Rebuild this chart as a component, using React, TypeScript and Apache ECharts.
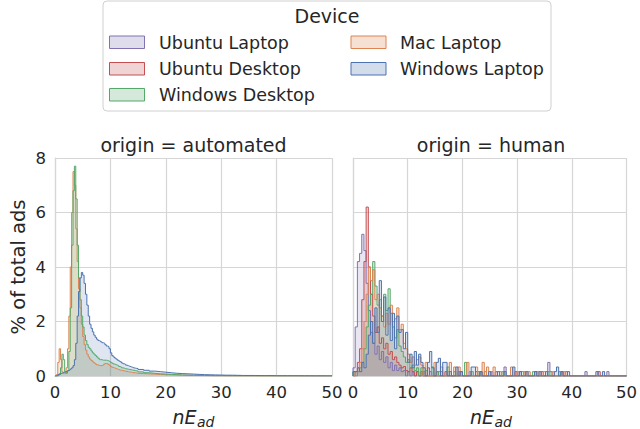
import React, { useEffect, useRef } from "react";
import * as echarts from "echarts";

// ---------- categories / ticks ----------
const LEGEND_TITLE = "Device";
const LEGEND_COL1 = ["Ubuntu Laptop", "Ubuntu Desktop", "Windows Desktop"];
const LEGEND_COL2 = ["Mac Laptop", "Windows Laptop"];
const PANELS = ["origin = automated", "origin = human"];
const X_MIN = 0;
const X_MAX = 50;
const X_STEP = 10;
const Y_MIN = 0;
const Y_MAX = 8;
const Y_STEP = 2;
const Y_LABEL = "% of total ads";

const COLORS: Record<string, string> = {
  "Ubuntu Laptop": "#8172B3",
  "Ubuntu Desktop": "#C44E52",
  "Windows Desktop": "#55A868",
  "Mac Laptop": "#DD8452",
  "Windows Laptop": "#4C72B0",
};

// ---------- automated panel: 0.25-wide bins from 0 to 15, then 1-wide bins to 50 ----------
const AUTO_BIN = 0.25;
const AUTO_TAIL_START = 15;
const AUTO_TAIL_BIN = 1;

const autoMacHead = [
  0, 0.05, 0.5, 1.0, 0.6, 0.15, 0.1, 0.1, 0.3, 1.0, 2.2, 4.0, 6.0, 7.5, 7.0, 5.4,
  4.2, 3.2, 2.5, 1.9, 1.45, 1.15, 0.95, 0.8, 0.7, 0.62, 0.57, 0.52, 0.48, 0.44, 0.41, 0.39,
  0.38, 0.38, 0.4, 0.43, 0.46, 0.46, 0.43, 0.4, 0.35, 0.32, 0.3, 0.28, 0.26, 0.24, 0.22, 0.21,
  0.2, 0.19, 0.18, 0.17, 0.16, 0.15, 0.14, 0.13, 0.12, 0.12, 0.11, 0.1,
];
const autoMacTail = [
  0.09, 0.08, 0.07, 0.06, 0.05, 0.04, 0.035, 0.03, 0.025, 0.02, 0.02, 0.015, 0.012, 0.01, 0.01,
  0.008, 0.006, 0.005, 0.005, 0.004, 0.004, 0.003, 0.003, 0.003, 0.002, 0.002, 0.002, 0.002,
  0.002, 0.001, 0.001, 0.001, 0.001, 0.001, 0.001,
];

const autoWinDesktopHead = [
  0, 0, 0.02, 0.05, 0.3, 0.8, 0.6, 0.15, 0.1, 0.2, 0.9, 2.5, 4.8, 6.8, 7.7, 6.5,
  4.8, 3.6, 2.8, 2.2, 1.8, 1.5, 1.3, 1.15, 1.05, 1.0, 0.92, 0.85, 0.8, 0.75, 0.7, 0.65,
  0.6, 0.6, 0.58, 0.58, 0.58, 0.57, 0.55, 0.53, 0.5, 0.47, 0.44, 0.42, 0.4, 0.38, 0.35, 0.33,
  0.3, 0.29, 0.27, 0.26, 0.25, 0.24, 0.23, 0.22, 0.21, 0.2, 0.19, 0.18,
];
const autoWinDesktopTail = [
  0.15, 0.12, 0.1, 0.08, 0.07, 0.06, 0.05, 0.04, 0.03, 0.03, 0.02, 0.02, 0.015, 0.01, 0.01,
  0.008, 0.007, 0.006, 0.005, 0.005, 0.004, 0.004, 0.003, 0.003, 0.002, 0.002, 0.002, 0.002,
  0.002, 0.001, 0.001, 0.001, 0.001, 0.001, 0.001,
];

const autoWinLaptopHead = [
  0, 0.02, 0.05, 0.08, 0.1, 0.12, 0.14, 0.16, 0.18, 0.2, 0.22, 0.26, 0.3, 0.38, 0.6, 1.2,
  2.2, 3.1, 3.6, 3.8, 3.7, 3.4, 3.0, 2.6, 2.2, 1.9, 1.75, 1.62, 1.5, 1.42, 1.35, 1.3,
  1.28, 1.25, 1.22, 1.2, 1.15, 1.1, 1.08, 1.0, 0.85, 0.75, 0.7, 0.66, 0.62, 0.58, 0.55, 0.52,
  0.48, 0.45, 0.43, 0.4, 0.38, 0.36, 0.34, 0.32, 0.3, 0.29, 0.28, 0.27,
];
const autoWinLaptopTail = [
  0.24, 0.21, 0.18, 0.16, 0.14, 0.12, 0.1, 0.09, 0.08, 0.07, 0.06, 0.05, 0.045, 0.04, 0.035,
  0.03, 0.03, 0.025, 0.02, 0.02, 0.02, 0.015, 0.015, 0.015, 0.01, 0.01, 0.01, 0.01, 0.01,
  0.008, 0.008, 0.006, 0.006, 0.005, 0.005,
];

// ---------- human panel: 0.4-wide bins; head = 0..12, tail = sparse bins [x, value] ----------
const HUMAN_BIN = 0.4;
const HUMAN_END = 48;

const humanUbuntuLaptopHead = [
  0.3, 1.8, 4.2, 4.5, 5.2, 4.6, 3.4, 2.4, 1.6, 1.2, 0.8, 1.1, 0.6, 0.9, 0.5, 0.7, 0.3, 0.5,
  0.2, 0.4, 0.2, 0.3, 0.16, 0.2, 0, 0.16, 0, 0.16, 0, 0.16,
];
const humanUbuntuLaptopTail = [
  [12.8, 0.16], [14.0, 0.16], [16.0, 0.16], [19.2, 0.16], [21.2, 0.16], [25.2, 0.16],
  [27.6, 0.33], [30.4, 0.16], [33.2, 0.16], [35.6, 0.5], [36.0, 0.16], [38.0, 0.16],
  [42.4, 0.16], [46.4, 0.16],
];

const humanUbuntuDesktopHead = [
  0, 0.16, 0.5, 1.0, 2.8, 4.2, 6.2, 4.0, 3.0, 2.2, 1.6, 1.8, 1.2, 1.4, 1.0, 1.2, 0.8, 0.9,
  0.6, 0.7, 0.5, 0.4, 0.3, 0.35, 0.2, 0.16, 0.3, 0.16, 0, 0.16,
];
const humanUbuntuDesktopTail = [
  [12.4, 0.16], [13.6, 0.3], [15.2, 0.16], [16.8, 0.16], [19.6, 0.16], [22.4, 0.16],
  [23.2, 0.16], [26.0, 0.16], [29.6, 0.16], [31.2, 0.16], [34.4, 0.16], [38.8, 0.16],
  [44.8, 0.16],
];

const humanWinDesktopHead = [
  0.16, 0, 0.16, 0.3, 0.5, 1.0, 1.8, 2.6, 3.0, 4.2, 3.3, 2.6, 2.8, 2.2, 3.0, 2.4, 3.2, 2.3,
  1.8, 1.4, 1.7, 1.1, 0.9, 0.7, 0.5, 0.6, 0.3, 0.4, 0.2, 0.3,
];
const humanWinDesktopTail = [
  [12.4, 0.3], [13.2, 0.2], [14.4, 0.33], [15.6, 0.16], [17.2, 0.33], [18.4, 0.16],
  [20.4, 0.5], [21.6, 0.16], [22.8, 0.16], [24.0, 0.16], [27.2, 0.16], [30.8, 0.16],
  [32.8, 0.16], [35.6, 0.16], [37.6, 0.16],
];

const humanMacHead = [
  0, 0.16, 0.3, 0.5, 1.0, 2.0, 3.0, 4.0, 3.5, 3.9, 2.8, 3.0, 2.5, 2.2, 1.8, 2.3, 1.9, 2.6,
  2.0, 2.1, 2.5, 1.7, 1.9, 1.2, 1.0, 0.8, 0.5, 0.7, 0.4, 0.6,
];
const humanMacTail = [
  [12.0, 0.7], [12.4, 0.4], [13.2, 0.5], [14.8, 0.5], [16.0, 0.33], [17.2, 0.16],
  [17.6, 0.5], [18.4, 0.33], [19.2, 0.33], [20.8, 0.5], [21.2, 0.16], [22.4, 0.33],
  [23.6, 0.5], [24.4, 0.33], [25.2, 0.16], [25.6, 0.33], [26.8, 0.16], [28.8, 0.33],
  [30.0, 0.16], [31.2, 0.16], [32.0, 0.16], [33.6, 0.16], [34.8, 0.16], [36.4, 0.16],
  [38.4, 0.16],
];

const humanWinLaptopHead = [
  0.16, 0.16, 0.3, 0.16, 0.5, 0.3, 0.8, 1.5, 2.0, 1.2, 2.5, 1.6, 3.5, 2.0, 2.9, 1.5, 2.5, 1.3,
  2.3, 1.0, 2.2, 1.6, 1.7, 1.0, 1.6, 0.5, 0.8, 0.3, 0.9, 0.4,
];
const humanWinLaptopTail = [
  [12.0, 0.8], [12.4, 0.5], [12.8, 0.3], [13.6, 0.5], [14.0, 0.9], [14.4, 0.3], [15.2, 0.5],
  [15.6, 0.65], [16.4, 0.5], [16.8, 0.5], [17.6, 0.16], [18.8, 0.33], [19.6, 0.16],
  [21.6, 0.33], [22.0, 0.33], [23.2, 0.16], [24.8, 0.16], [26.4, 0.16], [27.6, 0.16],
  [29.2, 0.33], [30.4, 0.16], [31.6, 0.16], [33.2, 0.16], [34.0, 0.16], [35.2, 0.16],
  [36.8, 0.16], [37.2, 0.33], [38.0, 0.16], [39.2, 0.16], [44.4, 0.16], [45.6, 0.16],
];

// ---------- builders ----------
function autoSteps(head: number[], tail: number[]) {
  const pts: number[][] = [[X_MIN, 0]];
  head.forEach((v, i) => pts.push([i * AUTO_BIN, v]));
  tail.forEach((v, j) => pts.push([AUTO_TAIL_START + j * AUTO_TAIL_BIN, v]));
  pts.push([AUTO_TAIL_START + tail.length * AUTO_TAIL_BIN, 0]);
  pts.push([X_MAX, 0]);
  return pts;
}

function humanSteps(head: number[], tail: number[][]) {
  const n = Math.round(HUMAN_END / HUMAN_BIN);
  const bins = new Array(n).fill(0);
  head.forEach((v, i) => (bins[i] = v));
  tail.forEach(([x, v]) => {
    const k = Math.round(x / HUMAN_BIN);
    if (k < n) bins[k] += v;
  });
  const pts: number[][] = [[X_MIN, 0]];
  bins.forEach((v, i) => pts.push([+(i * HUMAN_BIN).toFixed(3), v]));
  pts.push([HUMAN_END, 0]);
  pts.push([X_MAX, 0]);
  return pts;
}

const FONT = "DejaVu Sans";
const TXT = "#262626";
const GRID_C = "#d6d6d6";

function hexA(hex: string, a: number) {
  const r = parseInt(hex.slice(1, 3), 16);
  const g = parseInt(hex.slice(3, 5), 16);
  const b = parseInt(hex.slice(5, 7), 16);
  return `rgba(${r},${g},${b},${a})`;
}

function histSeries(name: string, data: number[][], idx: number) {
  return {
    name,
    type: "line",
    step: "end",
    data,
    xAxisIndex: idx,
    yAxisIndex: idx,
    symbol: "none",
    showSymbol: false,
    lineStyle: { color: COLORS[name], width: 1 },
    itemStyle: { color: COLORS[name] },
    areaStyle: { color: hexA(COLORS[name], 0.25) },
    clip: true,
    z: 2,
  };
}

const GRIDS = [
  { left: 55, top: 158, width: 277, height: 218 },
  { left: 353, top: 158, width: 276, height: 218 },
];

export default function App() {
  const ref = useRef<HTMLDivElement>(null);
  useEffect(() => {
    if (!ref.current) return;
    const chart = echarts.init(ref.current, undefined, { renderer: "svg" });

    const xAxis = GRIDS.map((_, i) => ({
      type: "value",
      gridIndex: i,
      min: X_MIN,
      max: X_MAX,
      interval: X_STEP,
      axisLine: { show: true, lineStyle: { color: GRID_C, width: 1.2 } },
      axisTick: { show: false },
      splitLine: { show: true, lineStyle: { color: GRID_C, width: 1.2 } },
      axisLabel: { color: TXT, fontSize: 16.5, fontFamily: FONT, margin: 8 },
    }));
    const yAxis = GRIDS.map((_, i) => ({
      type: "value",
      gridIndex: i,
      min: Y_MIN,
      max: Y_MAX,
      interval: Y_STEP,
      axisLine: { show: true, lineStyle: { color: GRID_C, width: 1.2 } },
      axisTick: { show: false },
      splitLine: { show: true, lineStyle: { color: GRID_C, width: 1.2 } },
      axisLabel: { show: i === 0, color: TXT, fontSize: 16.5, fontFamily: FONT, margin: 9 },
    }));

    const series = [
      histSeries("Mac Laptop", autoSteps(autoMacHead, autoMacTail), 0),
      histSeries("Windows Desktop", autoSteps(autoWinDesktopHead, autoWinDesktopTail), 0),
      histSeries("Windows Laptop", autoSteps(autoWinLaptopHead, autoWinLaptopTail), 0),
      histSeries("Ubuntu Laptop", humanSteps(humanUbuntuLaptopHead, humanUbuntuLaptopTail), 1),
      histSeries("Ubuntu Desktop", humanSteps(humanUbuntuDesktopHead, humanUbuntuDesktopTail), 1),
      histSeries("Windows Desktop", humanSteps(humanWinDesktopHead, humanWinDesktopTail), 1),
      histSeries("Mac Laptop", humanSteps(humanMacHead, humanMacTail), 1),
      histSeries("Windows Laptop", humanSteps(humanWinLaptopHead, humanWinLaptopTail), 1),
    ];

    const legendItems: any[] = [];
    const rowsY = [36, 62.5, 88.5];
    LEGEND_COL1.forEach((name, r) => {
      legendItems.push({
        type: "rect",
        shape: { x: 109.5, y: rowsY[r], width: 35, height: 12.5 },
        style: { fill: hexA(COLORS[name], 0.25), stroke: COLORS[name], lineWidth: 1 },
      });
      legendItems.push({
        type: "text",
        x: 159,
        y: rowsY[r] + 6.5,
        style: { text: name, fill: TXT, fontSize: 17.5, fontFamily: FONT, align: "left", verticalAlign: "middle" },
      });
    });
    LEGEND_COL2.forEach((name, r) => {
      legendItems.push({
        type: "rect",
        shape: { x: 351, y: rowsY[r], width: 35, height: 12.5 },
        style: { fill: hexA(COLORS[name], 0.25), stroke: COLORS[name], lineWidth: 1 },
      });
      legendItems.push({
        type: "text",
        x: 400,
        y: rowsY[r] + 6.5,
        style: { text: name, fill: TXT, fontSize: 17.5, fontFamily: FONT, align: "left", verticalAlign: "middle" },
      });
    });

    const xLabel = (cx: number) => [
      {
        type: "text",
        x: cx - 21,
        y: 416.5,
        style: { text: "nE", fill: TXT, fontSize: 19, fontStyle: "italic", fontFamily: FONT, align: "left", verticalAlign: "middle" },
      },
      {
        type: "text",
        x: cx + 3.5,
        y: 421.5,
        style: { text: "ad", fill: TXT, fontSize: 14, fontStyle: "italic", fontFamily: FONT, align: "left", verticalAlign: "middle" },
      },
    ];

    const graphic: any[] = [
      {
        type: "rect",
        shape: { x: 103, y: 1, width: 448, height: 110, r: 4 },
        style: { fill: "#ffffff", stroke: "#d0d0d0", lineWidth: 1 },
      },
      {
        type: "text",
        x: 327,
        y: 16,
        style: { text: LEGEND_TITLE, fill: TXT, fontSize: 19, fontFamily: FONT, align: "center", verticalAlign: "middle" },
      },
      ...legendItems,
      ...PANELS.map((t, i) => ({
        type: "text",
        x: GRIDS[i].left + GRIDS[i].width / 2,
        y: 145,
        style: { text: t, fill: TXT, fontSize: 19, fontFamily: FONT, align: "center", verticalAlign: "middle" },
      })),
      {
        type: "text",
        x: 18,
        y: 267,
        rotation: Math.PI / 2,
        style: { text: Y_LABEL, fill: TXT, fontSize: 19.5, fontFamily: FONT, align: "center", verticalAlign: "middle" },
      },
      ...xLabel(GRIDS[0].left + GRIDS[0].width / 2),
      ...xLabel(GRIDS[1].left + GRIDS[1].width / 2),
    ];

    chart.setOption({
      animation: false,
      backgroundColor: "#ffffff",
      grid: GRIDS.map((g) => ({ ...g, containLabel: false })),
      xAxis,
      yAxis,
      series,
      graphic,
    });
    return () => chart.dispose();
  }, []);

  return (
    <div
      ref={ref}
      style={{ position: "absolute", left: 0, top: 0, width: 640, height: 429 }}
    />
  );
}
